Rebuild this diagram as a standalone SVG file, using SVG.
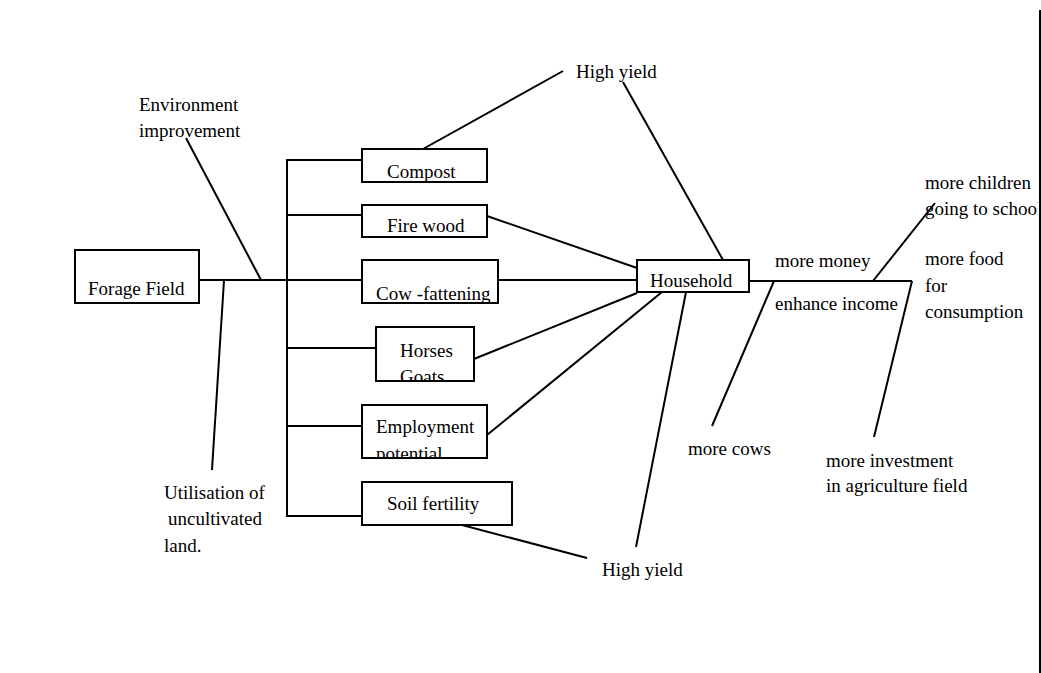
<svg xmlns="http://www.w3.org/2000/svg" width="1041" height="673" viewBox="0 0 1041 673">
<style>
.b{fill:#fff;stroke:#000;stroke-width:2}
.t{font-family:"Liberation Serif","Times New Roman",serif;font-size:19px;fill:#000}
.c line{stroke:#000;stroke-width:2}
</style>
<defs>
<clipPath id="cCow"><rect x="362" y="260" width="136" height="43"/></clipPath>
<clipPath id="cHorse"><rect x="376" y="327" width="98" height="54"/></clipPath>
<clipPath id="cEmp"><rect x="362" y="405" width="125" height="53"/></clipPath>
<clipPath id="cRight"><rect x="0" y="0" width="1038" height="673"/></clipPath>
</defs>
<rect width="1041" height="673" fill="#fff"/>
<g id="connectors" class="c">
<line x1="199" y1="280" x2="362" y2="280"/>
<line x1="498" y1="280" x2="637" y2="280"/>
<line x1="287" y1="159" x2="287" y2="517"/>
<line x1="287" y1="160" x2="362" y2="160"/>
<line x1="287" y1="215" x2="362" y2="215"/>
<line x1="287" y1="348" x2="376" y2="348"/>
<line x1="287" y1="426" x2="362" y2="426"/>
<line x1="287" y1="516" x2="362" y2="516"/>
<line x1="186" y1="138" x2="261" y2="280"/>
<line x1="224" y1="280" x2="212" y2="470"/>
<line x1="423" y1="149" x2="563" y2="71"/>
<line x1="723" y1="260" x2="623" y2="82"/>
<line x1="487" y1="216" x2="637" y2="268"/>
<line x1="474" y1="359" x2="637" y2="293"/>
<line x1="487" y1="435" x2="662" y2="292"/>
<line x1="686" y1="292" x2="636" y2="547"/>
<line x1="462" y1="525" x2="587" y2="558"/>
<line x1="749" y1="281" x2="912" y2="281"/>
<line x1="873" y1="281" x2="935" y2="203"/>
<line x1="774" y1="281" x2="712" y2="426"/>
<line x1="912" y1="281" x2="874" y2="437"/>
<line x1="1040" y1="10" x2="1040" y2="673"/>
</g>
<g id="forage"><rect class="b" x="75" y="250" width="124" height="53"/><text class="t" x="88" y="295">Forage Field</text></g>
<g id="compost"><rect class="b" x="362" y="149" width="125" height="33"/><text class="t" x="387" y="178">Compost</text></g>
<g id="firewood"><rect class="b" x="362" y="205" width="125" height="32"/><text class="t" x="387" y="232">Fire wood</text></g>
<g id="cow"><rect class="b" x="362" y="260" width="136" height="43"/><text class="t" x="376" y="300" clip-path="url(#cCow)">Cow -fattening</text><rect x="362" y="260" width="136" height="43" fill="none" stroke="#000" stroke-width="2"/></g>
<g id="horses"><rect class="b" x="376" y="327" width="98" height="54"/><text class="t" clip-path="url(#cHorse)"><tspan x="400" y="357">Horses</tspan><tspan x="400" y="383">Goats</tspan></text><rect x="376" y="327" width="98" height="54" fill="none" stroke="#000" stroke-width="2"/></g>
<g id="employment"><rect class="b" x="362" y="405" width="125" height="53"/><text class="t" clip-path="url(#cEmp)"><tspan x="376" y="433">Employment</tspan><tspan x="376" y="460">potential</tspan></text><rect x="362" y="405" width="125" height="53" fill="none" stroke="#000" stroke-width="2"/></g>
<g id="soil"><rect class="b" x="362" y="482" width="150" height="43"/><text class="t" x="387" y="510">Soil fertility</text></g>
<g id="household"><rect class="b" x="637" y="260" width="112" height="32"/><text class="t" x="650" y="287">Household</text></g>
<g id="environment"><text class="t"><tspan x="139" y="111">Environment</tspan><tspan x="139" y="137">improvement</tspan></text></g>
<g id="utilisation"><text class="t"><tspan x="164" y="499">Utilisation of</tspan><tspan x="168" y="525">uncultivated</tspan><tspan x="164" y="552">land.</tspan></text></g>
<g id="highyield-top"><text class="t" x="576" y="78">High yield</text></g>
<g id="highyield-bottom"><text class="t" x="602" y="576">High yield</text></g>
<g id="moremoney"><text class="t" x="775" y="267">more money</text></g>
<g id="enhance"><text class="t" x="775" y="310">enhance income</text></g>
<g id="children"><text class="t" clip-path="url(#cRight)"><tspan x="925" y="189">more children</tspan><tspan x="925" y="215">going to school</tspan></text></g>
<g id="food"><text class="t"><tspan x="925" y="265">more food</tspan><tspan x="925" y="292">for</tspan><tspan x="925" y="318">consumption</tspan></text></g>
<g id="cows"><text class="t" x="688" y="455">more cows</text></g>
<g id="investment"><text class="t"><tspan x="826" y="467">more investment</tspan><tspan x="826" y="492">in agriculture field</tspan></text></g>
</svg>
